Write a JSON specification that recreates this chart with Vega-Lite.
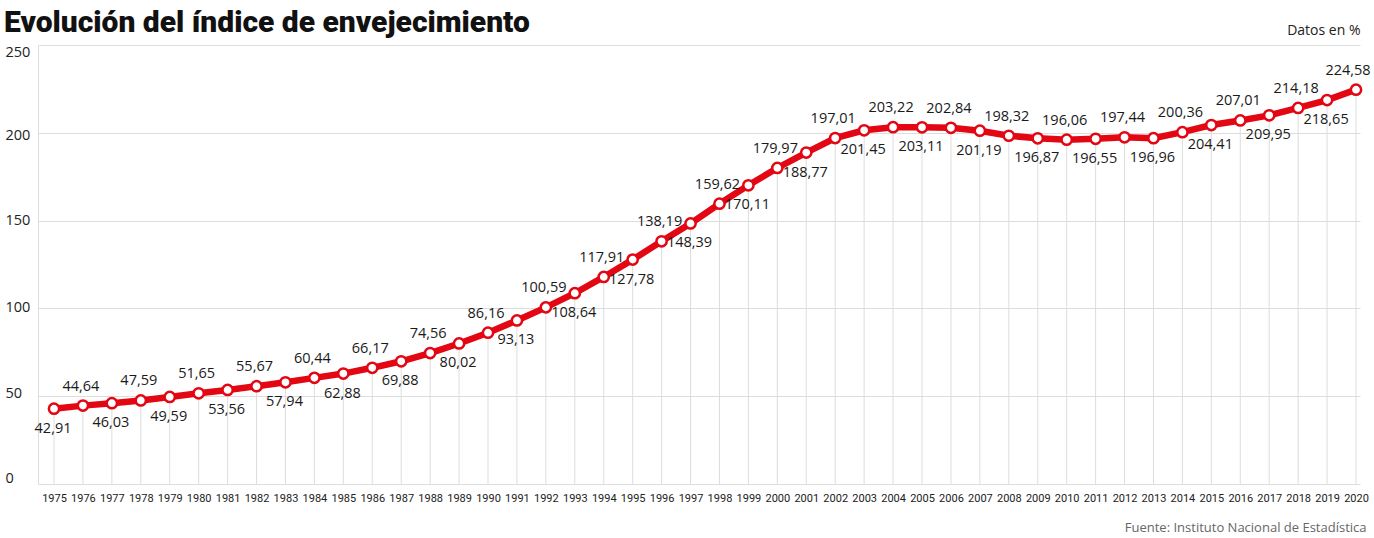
{
  "$schema": "https://vega.github.io/schema/vega-lite/v6.json",
  "autosize": "none",
  "width": 1322,
  "height": 439,
  "padding": {"left": 38, "top": 45, "right": 14, "bottom": 54},
  "background": "white",
  "title": {"text": "Evolución del índice de envejecimiento", "anchor": "start", "frame": "group", "dx": -34, "dy": 29, "offset": 14, "fontSize": 30, "font": "Roboto", "fontWeight": 900, "color": "#111111"},
  "config": {
    "view": {"stroke": null},
    "locale": {"number": {"decimal": ",", "thousands": ".", "grouping": [3], "currency": ["", " €"]}}
  },
  "data": {"values": [
    {"year": 1975, "value": 42.91}, {"year": 1976, "value": 44.64}, {"year": 1977, "value": 46.03},
    {"year": 1978, "value": 47.59}, {"year": 1979, "value": 49.59}, {"year": 1980, "value": 51.65},
    {"year": 1981, "value": 53.56}, {"year": 1982, "value": 55.67}, {"year": 1983, "value": 57.94},
    {"year": 1984, "value": 60.44}, {"year": 1985, "value": 62.88}, {"year": 1986, "value": 66.17},
    {"year": 1987, "value": 69.88}, {"year": 1988, "value": 74.56}, {"year": 1989, "value": 80.02},
    {"year": 1990, "value": 86.16}, {"year": 1991, "value": 93.13}, {"year": 1992, "value": 100.59},
    {"year": 1993, "value": 108.64}, {"year": 1994, "value": 117.91}, {"year": 1995, "value": 127.78},
    {"year": 1996, "value": 138.19}, {"year": 1997, "value": 148.39}, {"year": 1998, "value": 159.62},
    {"year": 1999, "value": 170.11}, {"year": 2000, "value": 179.97}, {"year": 2001, "value": 188.77},
    {"year": 2002, "value": 197.01}, {"year": 2003, "value": 201.45}, {"year": 2004, "value": 203.22},
    {"year": 2005, "value": 203.11}, {"year": 2006, "value": 202.84}, {"year": 2007, "value": 201.19},
    {"year": 2008, "value": 198.32}, {"year": 2009, "value": 196.87}, {"year": 2010, "value": 196.06},
    {"year": 2011, "value": 196.55}, {"year": 2012, "value": 197.44}, {"year": 2013, "value": 196.96},
    {"year": 2014, "value": 200.36}, {"year": 2015, "value": 204.41}, {"year": 2016, "value": 207.01},
    {"year": 2017, "value": 209.95}, {"year": 2018, "value": 214.18}, {"year": 2019, "value": 218.65},
    {"year": 2020, "value": 224.58}
  ]},
  "encoding": {
    "x": {"field": "year", "type": "quantitative",
      "scale": {"domain": [1974.447, 2020.138], "nice": false, "zero": false},
      "axis": {"values": [1975,1976,1977,1978,1979,1980,1981,1982,1983,1984,1985,1986,1987,1988,1989,1990,1991,1992,1993,1994,1995,1996,1997,1998,1999,2000,2001,2002,2003,2004,2005,2006,2007,2008,2009,2010,2011,2012,2013,2014,2015,2016,2017,2018,2019,2020],
        "format": "d", "grid": false, "ticks": false, "domain": false, "labelAngle": 0, "labelOverlap": false,
        "labelFont": "Roboto", "labelFontSize": 11, "labelColor": "#222222", "labelPadding": 8,
        "title": "Fuente: Instituto Nacional de Estadística", "titleFont": "Open Sans", "titleFontSize": 13, "titleFontWeight": "normal", "titleColor": "#666666",
        "titleAnchor": "end", "titleAlign": "right", "titleX": 1328, "titleY": 43, "titleBaseline": "middle"}},
    "y": {"field": "value", "type": "quantitative",
      "scale": {"domain": [0, 250], "nice": false},
      "axis": {"values": [0, 50, 100, 150, 200, 250], "grid": true, "gridColor": "#dddddd", "gridWidth": 1,
        "ticks": false, "domain": true, "domainColor": "#dddddd", "domainWidth": 1,
        "labelAlign": "left", "labelPadding": 33, "labelBaseline": "middle",
        "labelOffset": {"condition": [{"test": "datum.value == 250", "value": 7}, {"test": "datum.value == 200", "value": 3}, {"test": "datum.value == 150", "value": 0}, {"test": "datum.value == 100", "value": -1}, {"test": "datum.value == 50", "value": -3}], "value": -6},
        "labelFont": "Open Sans", "labelFontSize": 14.5, "labelColor": "#222222",
        "title": "Datos en %", "titleAngle": 0, "titleAlign": "right", "titleBaseline": "middle", "titleX": 1322, "titleY": -15,
        "titleFont": "Open Sans", "titleFontSize": 14, "titleFontWeight": "normal", "titleColor": "#222222"}}
  },
  "layer": [
    {"mark": {"type": "rule", "color": "#dddddd", "strokeWidth": 1}, "encoding": {"y2": {"datum": 0}}},
    {"mark": {"type": "line", "color": "#e30613", "strokeWidth": 6.5}},
    {"mark": {"type": "point", "filled": true, "fill": "white", "stroke": "#e30613", "strokeWidth": 2.5, "size": 105, "opacity": 1}},
    {"transform": [{"filter": "datum.year % 2 == 0 && datum.year < 2020"}],
      "mark": {"type": "text", "dy": -19, "dx": -2, "font": "Open Sans", "fontSize": 14.5, "color": "#1a1a1a"},
      "encoding": {"text": {"field": "value", "type": "quantitative", "format": ".2f"}}},
    {"transform": [{"filter": "datum.year == 2020"}],
      "mark": {"type": "text", "dy": -19, "dx": -8, "font": "Open Sans", "fontSize": 14.5, "color": "#1a1a1a"},
      "encoding": {"text": {"field": "value", "type": "quantitative", "format": ".2f"}}},
    {"transform": [{"filter": "datum.year % 2 == 1"}],
      "mark": {"type": "text", "dy": 20, "dx": -1, "font": "Open Sans", "fontSize": 14.5, "color": "#1a1a1a"},
      "encoding": {"text": {"field": "value", "type": "quantitative", "format": ".2f"}}}
  ]
}
